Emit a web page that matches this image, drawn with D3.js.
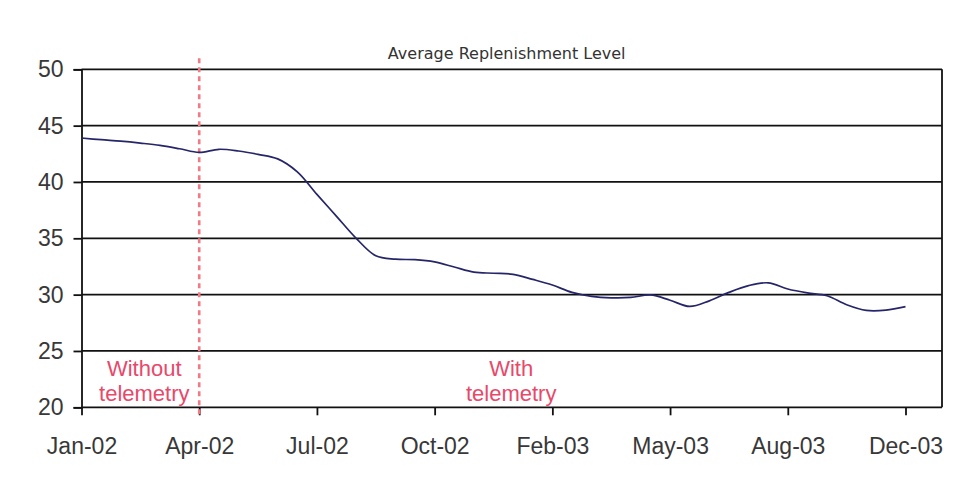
<!DOCTYPE html>
<html>
<head>
<meta charset="utf-8">
<script src="https://cdn.jsdelivr.net/npm/d3@7"></script>
<style>
  html, body { margin: 0; padding: 0; background: #fff; }
  svg { display: block; }
</style>
</head>
<body>
<svg id="chart" width="953" height="485"></svg>
<script>
// Half-monthly average replenishment level, Jan-02 .. Dec-03
const level = [
  43.9, 43.75, 43.62, 43.45, 43.25, 42.95, 42.62, 42.9, 42.75, 42.45,
  42.05, 40.9, 38.9, 36.95, 35.0, 33.45, 33.15, 33.1, 32.9, 32.45,
  32.0, 31.9, 31.8, 31.35, 30.85, 30.2, 29.85, 29.72, 29.75, 29.97,
  29.5, 28.95, 29.45, 30.2, 30.8, 31.05, 30.5, 30.15, 29.9, 29.1,
  28.6, 28.62, 28.93
];

// Category ticks along the period axis
const tickLabels = ["Jan-02", "Apr-02", "Jul-02", "Oct-02", "Feb-03", "May-03", "Aug-03", "Dec-03"];
const tickIndex  = [0, 6, 12, 18, 24, 30, 36, 42];

// Value axis
const yTicks = [20, 25, 30, 35, 40, 45, 50];
const yDomain = [20, 50];

// Telemetry roll-out (Apr-02) and the two period captions
const changeoverIndex = 6;
const captionLines = [["Without", "telemetry"], ["With", "telemetry"]];
const captionIndex = [3.2, 21.9];

const title = "Average Replenishment Level";

// ---- layout ----
const plot = { left: 81.5, right: 942, top: 69.3, bottom: 407.3 };
const lastPointX = 905.5;

const svg = d3.select("#chart");

const x = d3.scaleLinear().domain([0, level.length - 1]).range([plot.left, lastPointX]);
const y = d3.scaleLinear().domain(yDomain).range([plot.bottom, plot.top]);

// horizontal grid lines
svg.append("g")
  .selectAll("line")
  .data(yTicks.filter(t => t > yDomain[0]))
  .join("line")
  .attr("x1", plot.left).attr("x2", plot.right)
  .attr("y1", d => y(d)).attr("y2", d => y(d))
  .attr("stroke", "#111").attr("stroke-width", 1.8);

// right border of the plot area
svg.append("line")
  .attr("x1", plot.right).attr("x2", plot.right)
  .attr("y1", plot.top).attr("y2", plot.bottom)
  .attr("stroke", "#111").attr("stroke-width", 1.8);

// y axis
const yAxis = svg.append("g")
  .attr("transform", `translate(${plot.left},0)`)
  .call(d3.axisLeft(y).tickValues(yTicks).tickSize(8).tickPadding(10).tickFormat(d3.format("d")));
yAxis.select(".domain").attr("stroke", "#111").attr("stroke-width", 1.8);
yAxis.selectAll(".tick line").attr("stroke", "#111").attr("stroke-width", 1.8);
yAxis.selectAll(".tick text")
  .attr("font-family", "'Liberation Sans', Arial, sans-serif")
  .attr("font-size", 23).attr("fill", "#383838");

// x axis
const xAxis = svg.append("g")
  .attr("transform", `translate(0,${plot.bottom})`)
  .call(d3.axisBottom(x).tickValues(tickIndex).tickSize(8).tickPadding(22)
    .tickFormat((d, i) => tickLabels[i]));
xAxis.select(".domain").remove();
svg.append("line")
  .attr("x1", plot.left).attr("x2", plot.right)
  .attr("y1", plot.bottom).attr("y2", plot.bottom)
  .attr("stroke", "#111").attr("stroke-width", 1.8);
xAxis.selectAll(".tick line").attr("stroke", "#111").attr("stroke-width", 1.8);
xAxis.selectAll(".tick text")
  .attr("font-family", "'Liberation Sans', Arial, sans-serif")
  .attr("font-size", 23).attr("fill", "#383838");

// dashed changeover marker
svg.append("line")
  .attr("x1", x(changeoverIndex)).attr("x2", x(changeoverIndex))
  .attr("y1", plot.top - 11).attr("y2", plot.bottom + 8)
  .attr("stroke", "#f27a85").attr("stroke-width", 2.6)
  .attr("stroke-dasharray", "5,4");

// period captions
captionLines.forEach((lines, k) => {
  const t = svg.append("text")
    .attr("x", x(captionIndex[k]))
    .attr("y", 375.5)
    .attr("text-anchor", "middle")
    .attr("font-family", "'Liberation Sans', Arial, sans-serif")
    .attr("font-size", 22)
    .attr("fill", "#e8486a");
  lines.forEach((s, j) => {
    t.append("tspan").attr("x", x(captionIndex[k])).attr("dy", j === 0 ? 0 : 25.5).text(s);
  });
});

// replenishment level line
const line = d3.line()
  .x((d, i) => x(i))
  .y(d => y(d))
  .curve(d3.curveCatmullRom.alpha(0.5));

svg.append("path")
  .datum(level)
  .attr("fill", "none")
  .attr("stroke", "#25256a")
  .attr("stroke-width", 1.7)
  .attr("d", line);

// title
svg.append("text")
  .attr("x", 506.7).attr("y", 59)
  .attr("text-anchor", "middle")
  .attr("font-family", "'DejaVu Sans', Verdana, sans-serif")
  .attr("font-size", 16)
  .attr("fill", "#333")
  .text(title);
</script>
</body>
</html>
